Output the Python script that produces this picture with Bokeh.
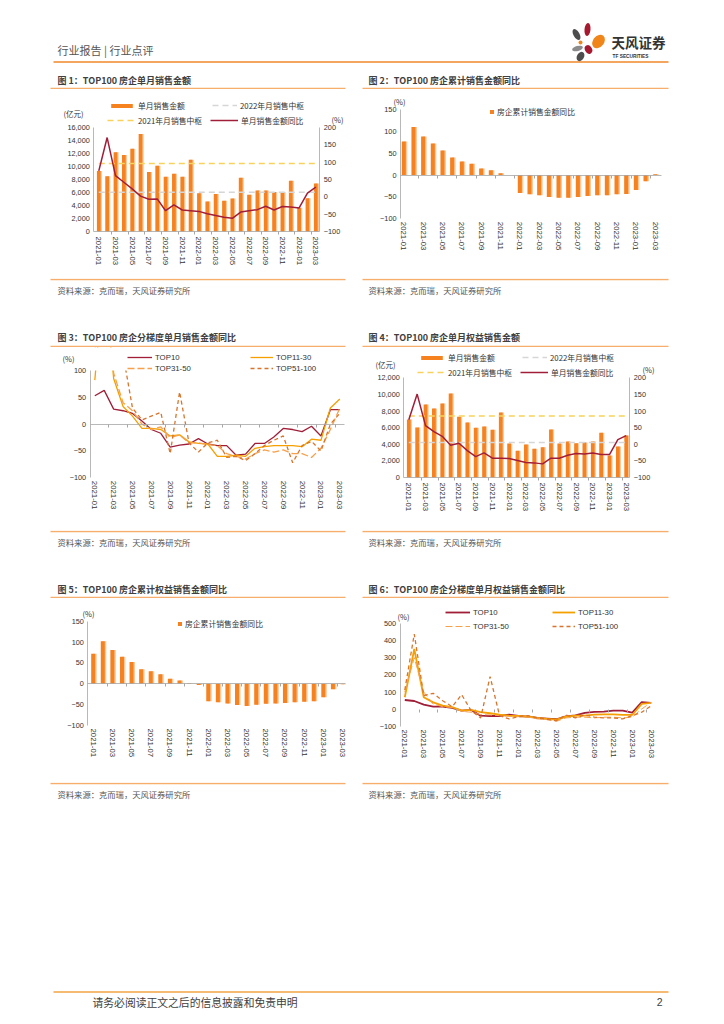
import numpy as np
from bokeh.plotting import figure
from bokeh.models import (Range1d, LinearAxis, FixedTicker, NumeralTickFormatter, Legend,
                          LegendItem, Label, Spacer, ColumnDataSource, BoxAnnotation)
from bokeh.layouts import column, row
from bokeh.core.properties import value
from bokeh.transform import dodge
from bokeh.embed import file_html
from bokeh.resources import INLINE

CN = "Noto Sans CJK SC"
EN = "Liberation Sans"

# ---------------- data ----------------
months = ["2021-01", "2021-02", "2021-03", "2021-04", "2021-05", "2021-06", "2021-07", "2021-08",
          "2021-09", "2021-10", "2021-11", "2021-12", "2022-01", "2022-02", "2022-03", "2022-04",
          "2022-05", "2022-06", "2022-07", "2022-08", "2022-09", "2022-10", "2022-11", "2022-12",
          "2023-01", "2023-02", "2023-03"]
tick_labels = ["2021-01", "2021-03", "2021-05", "2021-07", "2021-09", "2021-11", "2022-01",
               "2022-03", "2022-05", "2022-07", "2022-09", "2022-11", "2023-01", "2023-03"]

# Fig 1: TOP100 monthly sales (亿元) and YoY (%)
sales_top100 = [9300, 8490, 12200, 11760, 12730, 15000, 9150, 10100, 8440, 8900, 8440, 11040,
                5880, 4600, 5780, 4750, 5060, 8280, 5670, 6290, 6290, 6080, 6080, 7820,
                3650, 5100, 7400]
sales_yoy = [75, 171, 61, 42, 23, 2, -7, -6, -40, -23, -38, -40, -42, -49, -54, -59, -62, -44,
             -40, -37, -27, -38, -28, -29, -32, 11, 28]

# Fig 2: cumulative sales YoY (%)  (2021-12 not shown)
cum_yoy = [77, 110, 88, 72, 56, 40, 31, 26, 15, 11, 4, None, -41, -44, -46, -50, -52, -52, -50,
           -48, -46, -46, -44, -43, -34, -14, 2]

# Fig 3: YoY by tier (%)
t10_m = [53, 63, 28, 25, 20, 6, -10, -17, -43, -39, -37, -27, -37, -40, -40, -58, -56, -36, -36,
         -24, -8, -10, -14, -4, -22, 27, 27]
t11_30_m = [82, 280, 85, 33, 15, -8, -8, -10, -22, -20, -33, -36, -37, -60, -60, -58, -60, -45,
            -42, -40, -40, -40, -42, -28, -30, 30, 47]
t31_50_m = [130, 320, 95, 40, 25, 0, -10, -5, -25, -20, -35, -35, -38, -40, -55, -60, -65, -55,
            -48, -52, -48, -55, -55, -62, -45, -10, 30]
t51_100_m = [150, 300, 250, 130, 30, 8, 15, 22, -55, 60, -35, -52, -35, -30, -62, -60, -68, -55,
             -40, -30, -22, -72, -40, -32, -50, 0, 20]

# Fig 4: TOP100 monthly equity sales (亿元) and YoY (%)
eq_sales = [6980, 6020, 8790, 8310, 8910, 10110, 7300, 6620, 5980, 6140, 5740, 7820,
            4090, 3210, 3970, 3450, 3650, 5780, 4090, 4330, 4130, 4210, 4330, 5380,
            2650, 3730, 5060]
eq_yoy = [74, 151, 56, 38, 24, -3, 3, -19, -37, -26, -42, -42, -43, -49, -55, -56, -59, -42,
          -42, -33, -28, -29, -26, -31, -31, 14, 26]

# Fig 5: cumulative equity sales YoY (%)
cum_eq_yoy = [72, 102, 81, 65, 52, 35, 30, 23, 12, 8, 1, -3, -42, -44, -47, -51, -53, -50, -48,
              -47, -46, -44, -43, -42, -32, -13, -1]

# Fig 6: equity YoY by tier (%)
t10_e = [54, 48, 27, 15, 15, 8, -8, -4, -37, -39, -39, -31, -39, -43, -50, -54, -58, -41, -35,
         -21, -15, -14, -8, -8, -19, 41, 37]
t11_30_e = [70, 350, 70, 40, 21, 12, -8, -4, -17, -23, -31, -37, -39, -43, -50, -56, -60, -43,
            -37, -37, -31, -29, -29, -33, -33, 31, 37]
t31_50_e = [100, 300, 100, 30, 15, 10, -12, -17, -31, -33, -37, -41, -43, -45, -56, -60, -70,
            -50, -46, -46, -50, -46, -46, -50, -46, 2, 40]
t51_100_e = [112, 437, 80, 93, 50, 15, 85, -8, -50, 190, -37, -56, -43, -37, -50, -58, -66, -33,
             -50, -33, -46, -50, -50, -56, -37, -17, 20]

titles = ["图 1：TOP100 房企单月销售金额", "图 2：TOP100 房企累计销售金额同比",
          "图 3：TOP100 房企分梯度单月销售金额同比", "图 4：TOP100 房企单月权益销售金额",
          "图 5：TOP100 房企累计权益销售金额同比", "图 6：TOP100 房企分梯度单月权益销售金额同比"]
source_text = "资料来源：克而瑞，天风证券研究所"

# ---------------- styles ----------------
BAR = "#F5821F"
BAR_L = "#FBC89A"
CRIMSON = "#A01E38"
YEL = "#F8D25A"
GRAY = "#D6D6D6"
T11 = "#F5A000"
T31 = "#F6A04C"
T51 = "#D8742C"
AX = "#A6A6A6"
TXT = "#333333"
RULE = "#F7AE6C"

idx = np.arange(len(months))
lab_pos = [months.index(t) for t in tick_labels]
bnd_pos = [p + 1.5 for p in lab_pos[:-1]]


def mapper(p0, v0, p1, v1):
    s = (v1 - v0) / (p1 - p0)
    return lambda px: v0 + (px - p0) * s


def mean_of_year(vals, year):
    return float(np.mean([v for m, v in zip(months, vals) if m.startswith(year)]))


class Panel:
    """A chart whose frame fills the whole figure; page pixels are mapped to data."""

    def __init__(self, box, xpx, ypx, yval):
        self.x0, self.y0, self.w, self.h = box
        self.mx = mapper(xpx[0], 0, xpx[1], len(months) - 1)
        self.my = mapper(ypx[0], yval[0], ypx[1], yval[1])
        self.p = figure(width=self.w, height=self.h,
                        x_range=Range1d(self.mx(self.x0), self.mx(self.x0 + self.w)),
                        y_range=Range1d(self.my(self.y0 + self.h), self.my(self.y0)),
                        x_axis_type=None, y_axis_type=None, output_backend="svg",
                        toolbar_location=None, min_border=0)
        p = self.p
        p.outline_line_color = None
        p.background_fill_color = "white"
        p.border_fill_color = "white"

    def extra(self, name, ypx, yval):
        m = mapper(ypx[0], yval[0], ypx[1], yval[1])
        self.p.extra_y_ranges = {name: Range1d(m(self.y0 + self.h), m(self.y0))}

    def y_axis(self, ticks, at_px, side="left", fmt=None, rng=None):
        kw = {}
        if rng:
            kw["y_range_name"] = rng
        t = list(ticks)
        ax = LinearAxis(fixed_location=self.mx(at_px), bounds=(t[0], t[-1]),
                        ticker=FixedTicker(ticks=t, minor_ticks=[]),
                        major_tick_in=0, major_tick_out=0, minor_tick_in=0, minor_tick_out=0,
                        major_label_standoff=4, axis_line_color=AX, axis_line_width=0.8,
                        major_label_text_font=EN, major_label_text_font_size="7.3px",
                        major_label_text_color=TXT, **kw)
        if fmt:
            ax.formatter = NumeralTickFormatter(format=fmt)
        self.p.add_layout(ax, side)

    def x_labels(self, at_val, x_from_px, x_to_px, line=False, ticks=False, standoff=3):
        ax = LinearAxis(fixed_location=at_val,
                        bounds=(self.mx(x_from_px), self.mx(x_to_px)),
                        ticker=FixedTicker(ticks=lab_pos, minor_ticks=bnd_pos if ticks else []),
                        major_label_overrides={int(k): v for k, v in zip(lab_pos, tick_labels)},
                        major_label_orientation="vertical",
                        major_tick_in=0, major_tick_out=0,
                        minor_tick_in=0, minor_tick_out=3 if ticks else 0,
                        minor_tick_line_color=AX,
                        major_label_standoff=standoff,
                        axis_line_color=AX if line else None, axis_line_width=0.8,
                        major_label_text_font=EN, major_label_text_font_size="7.8px",
                        major_label_text_color=TXT)
        self.p.add_layout(ax, "below")

    def zero_axis(self, x_from_px, x_to_px, line=True):
        ax = LinearAxis(fixed_location=0, bounds=(self.mx(x_from_px), self.mx(x_to_px)),
                        ticker=FixedTicker(ticks=bnd_pos, minor_ticks=[]),
                        major_tick_in=0, major_tick_out=3, minor_tick_in=0, minor_tick_out=0,
                        major_tick_line_color=AX, axis_line_color=AX if line else None,
                        axis_line_width=0.8,
                        major_label_text_alpha=0, major_label_text_font_size="1px",
                        major_label_standoff=0)
        self.p.add_layout(ax, "below")

    def note(self, px, py, txt, font=CN, size="7.5px"):
        self.p.add_layout(Label(x=px - self.x0, y=self.y0 + self.h - py, x_units="screen",
                                y_units="screen", text=txt, text_font=font, text_font_size=size,
                                text_color=TXT, text_baseline="middle", text_align="left"))

    def leg(self, r, label, px, py, gw=26, gh=12, font=CN):
        H = 12
        L = Legend(items=[LegendItem(label=label, renderers=[r])],
                   location=(px - self.x0, self.y0 + self.h - py - H / 2),
                   orientation="vertical", padding=0, margin=0, spacing=0,
                   border_line_color=None, background_fill_alpha=0,
                   glyph_width=gw, glyph_height=gh, label_height=H, label_standoff=3,
                   label_text_font=font, label_text_font_size="7.8px",
                   label_text_color=TXT, label_text_baseline="middle")
        self.p.add_layout(L)


def bar_panel(box, xpx, left_px, right_px, ypx, ymax, vals, yoy, legpos, units):
    P = Panel(box, xpx, ypx, (0, ymax))
    P.extra("pct", ypx, (-100, 200))
    p = P.p
    src = ColumnDataSource(dict(x=idx, v=np.array(vals, dtype=float)))
    p.vbar(x=dodge("x", 0.15), top="v", width=0.45, source=src, fill_color=BAR_L, line_color=None)
    rb = p.vbar(x="x", top="v", width=0.45, source=src, fill_color=BAR, line_color=None)
    rg = p.line(x=idx, y=np.full(len(idx), mean_of_year(vals, "2022")), line_color=GRAY,
                line_width=1.6, line_dash="6 4")
    ry = p.line(x=idx, y=np.full(len(idx), mean_of_year(vals, "2021")), line_color=YEL,
                line_width=1.6, line_dash="6 4")
    rl = p.line(x=idx, y=yoy, y_range_name="pct", line_color=CRIMSON, line_width=1.5)
    P.y_axis(range(0, ymax + 1, 2000), left_px, "left", "0,0")
    P.y_axis(range(-100, 201, 50), right_px, "right", rng="pct")
    P.x_labels(0, left_px, right_px, line=True, ticks=True, standoff=2)
    (b, g, y, l) = legpos
    P.leg(rb, "单月销售金额", b[0], b[1], gw=27, gh=5)
    P.leg(rg, "2022年月销售中枢", g[0], g[1], gw=25)
    P.leg(ry, "2021年月销售中枢", y[0], y[1], gw=28)
    P.leg(rl, "单月销售金额同比", l[0], l[1], gw=28)
    P.note(units[0][0], units[0][1], "(亿元)")
    P.note(units[1][0], units[1][1], "(%)")
    return p


def cum_panel(box, xpx, left_px, right_px, ypx, vals, legpos, unitpos):
    P = Panel(box, xpx, ypx, (-100, 150))
    p = P.p
    src = ColumnDataSource(dict(x=idx, v=np.array(vals, dtype=float)))
    p.vbar(x=dodge("x", 0.15), top="v", width=0.42, source=src, fill_color=BAR_L, line_color=None)
    rb = p.vbar(x="x", top="v", width=0.42, source=src, fill_color=BAR, line_color=None)
    P.zero_axis(left_px, right_px, line=True)
    P.x_labels(-100, left_px, right_px)
    P.y_axis(range(-100, 151, 50), left_px)
    P.leg(rb, "房企累计销售金额同比", legpos[0], legpos[1], gw=5, gh=5)
    P.note(unitpos[0], unitpos[1], "(%)")
    return p


def tier_panel(box, xpx, left_px, right_px, ypx, yval, yt, series, widths, zline, legpos,
               unitpos):
    P = Panel(box, xpx, ypx, yval)
    p = P.p
    a, b, c, d = series
    wa, wb, wc, wd = widths
    r10 = p.line(x=idx, y=a, line_color=CRIMSON, line_width=wa)
    r11 = p.line(x=idx, y=b, line_color=T11, line_width=wb)
    r31 = p.line(x=idx, y=c, line_color=T31, line_width=wc, line_dash="7 3")
    r51 = p.line(x=idx, y=d, line_color=T51, line_width=wd, line_dash="4 3")
    # the plot area ends at the top tick: hide what lies above it
    yr = p.y_range
    mask = BoxAnnotation(left=p.x_range.start, right=p.x_range.end, bottom=yval[1], top=yr.end,
                         fill_color="white", fill_alpha=1.0, line_alpha=0, level="glyph")
    p.add_layout(mask)
    P.zero_axis(left_px, right_px, line=zline)
    P.x_labels(yval[0], left_px, right_px)
    P.y_axis(yt, left_px)
    (p1, p2, p3, p4) = legpos
    P.leg(r10, "TOP10", p1[0], p1[1], gw=25, font=EN)
    P.leg(r11, "TOP11-30", p2[0], p2[1], gw=23, font=EN)
    P.leg(r31, "TOP31-50", p3[0], p3[1], gw=25, font=EN)
    P.leg(r51, "TOP51-100", p4[0], p4[1], gw=23, font=EN)
    P.note(unitpos[0], unitpos[1], "(%)")
    return p


# ---------------- charts (geometry in page pixels) ----------------
f1 = bar_panel((50, 89, 296, 189), (98.3, 315.3), 93.3, 319.3, (231, 127), 16000,
               sales_top100, sales_yoy,
               [(108, 105), (212, 105), (107, 120), (210, 120)], ((63, 113), (331, 119)))
f2 = cum_panel((362, 89, 306, 189), (403.3, 654.7), 400, 660.8, (218.3, 109), cum_yoy,
               (489, 111), (393, 101))
f3 = tier_panel((50, 347, 296, 183), (94.3, 339.3), 89.6, 343.5, (477.3, 370), (-100, 100),
                range(-100, 101, 50), (t10_m, t11_30_m, t31_50_m, t51_100_m),
                (1.3, 1.3, 1.3, 1.3), True,
                ((127, 357), (250, 357), (127, 368), (250, 368)), (62, 358))
f4 = bar_panel((362, 347, 306, 183), (408.3, 625.7), 403.3, 629.3, (477, 377.3), 12000,
               eq_sales, eq_yoy,
               [(418, 357), (522, 357), (417, 372), (520, 372)], ((375, 364), (642, 369)))
f5 = cum_panel((50, 598, 296, 184), (92.7, 342), 87.3, 345.3, (725, 620.7), cum_eq_yoy,
               (177, 623), (82, 613))
f6 = tier_panel((362, 598, 306, 184), (404.3, 650.7), 399.6, 655.6, (726, 622.7), (-100, 500),
                range(-100, 501, 100), (t10_e, t11_30_e, t31_50_e, t51_100_e),
                (1.8, 1.8, 1.0, 1.3), False,
                ((445, 612), (552, 612), (445, 626), (552, 626)), (397, 616))


# ---------------- page strips (page pixel coordinates) ----------------
def strip(y0, y1):
    p = figure(width=716, height=y1 - y0, x_range=Range1d(0, 716), y_range=Range1d(y1, y0),
               output_backend="svg", toolbar_location=None, min_border=0,
               x_axis_type=None, y_axis_type=None)
    p.outline_line_color = None
    p.background_fill_color = "white"
    p.border_fill_color = "white"
    return p


def stext(p, x, y, t, size, color="#404040", font=CN, style="normal", align="left"):
    p.text(x=[x], y=[y], text=[t], text_font=value(font), text_font_size=value(size),
           text_color=color, text_baseline="middle", text_align=align, text_font_style=style)


def rules(p, y, color=RULE, w=1.4):
    p.segment(x0=[50, 362], y0=[y, y], x1=[345, 668], y1=[y, y], line_color=color, line_width=w)


def title_pair(p, y, t1, t2):
    stext(p, 57, y, t1, "9px", style="bold")
    stext(p, 368, y, t2, "9px", style="bold")


def source_pair(p, y):
    stext(p, 57, y, source_text, "8.3px", color="#555555")
    stext(p, 368, y, source_text, "8.3px", color="#555555")


sA = strip(0, 89)
stext(sA, 57, 49, "行业报告 | 行业点评", "11px", color="#555555")
sA.segment(x0=[53], y0=[61.5], x1=[668], y1=[61.5], line_color="#F0892A", line_width=1.6)
petal_x = [576, 587, 598, 580, 577, 588, 580]
petal_y = [34, 29, 41, 42, 48, 49, 56]
petal_w = [6, 6, 11, 4, 11, 7, 7]
petal_h = [12, 13, 15, 4, 5, 9, 10]
petal_a = [30, -5, -40, 0, 15, 30, -30]
petal_c = ["#4D4D4D", "#A6192E", "#F08519", "#F08519", "#8C8C8C", "#A6192E", "#4D4D4D"]
sA.ellipse(x=petal_x, y=petal_y, width=petal_w, height=petal_h, angle=petal_a, angle_units="deg",
           fill_color=petal_c, line_color=None)
stext(sA, 611, 41, "天风证券", "13.5px", color="#333333", style="bold")
stext(sA, 612, 56, "TF SECURITIES", "4.8px", color="#333333", font=EN, style="bold")
title_pair(sA, 80, titles[0], titles[1])
rules(sA, 88)

sB = strip(278, 347)
rules(sB, 279)
source_pair(sB, 289)
title_pair(sB, 337, titles[2], titles[3])
rules(sB, 346)

sC = strip(530, 598)
rules(sC, 531)
source_pair(sC, 541)
title_pair(sC, 589, titles[4], titles[5])
rules(sC, 597)

sD = strip(782, 1020)
rules(sD, 783)
source_pair(sD, 793)
sD.segment(x0=[53], y0=[991.5], x1=[668], y1=[991.5], line_color="#F2A444", line_width=1.5)
stext(sD, 92, 1001, "请务必阅读正文之后的信息披露和免责申明", "10.8px", color="#404040")
stext(sD, 662, 1001, "2", "10.5px", color="#404040", font=EN, align="right")

layout = column(
    sA,
    row(Spacer(width=50, height=189), f1, Spacer(width=16, height=189), f2),
    sB,
    row(Spacer(width=50, height=183), f3, Spacer(width=16, height=183), f4),
    sC,
    row(Spacer(width=50, height=184), f5, Spacer(width=16, height=184), f6),
    sD,
)

open("out.html", "w").write(file_html(layout, INLINE, "TOP100 房企销售"))
